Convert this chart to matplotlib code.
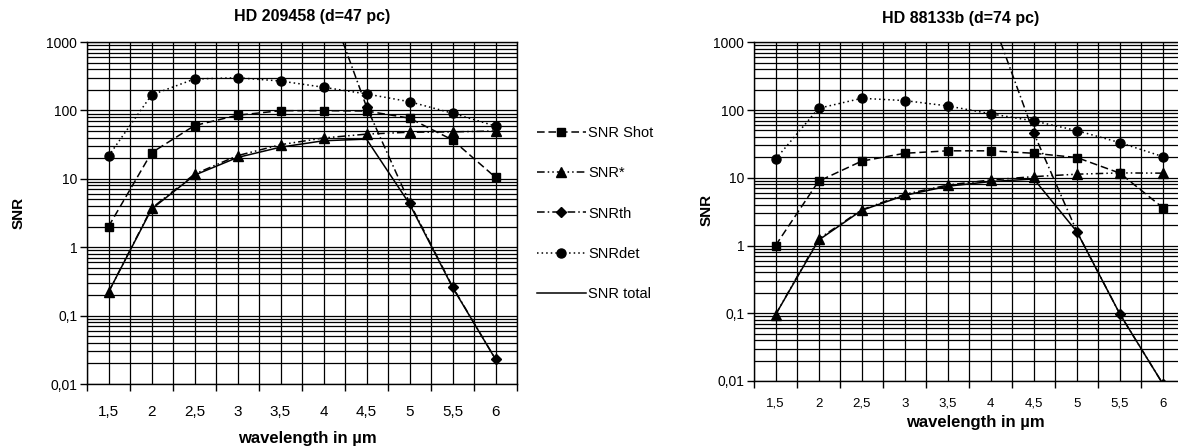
import matplotlib
matplotlib.use("Agg")
import matplotlib.pyplot as plt
from matplotlib.lines import Line2D
from matplotlib.ticker import FixedLocator

plt.rcParams['font.family'] = ['Liberation Sans', 'DejaVu Sans']

# ---------------- data ----------------
wavelength_labels = ["1,5", "2", "2,5", "3", "3,5", "4", "4,5", "5", "5,5", "6"]

# HD 209458 (d=47 pc)
a_shot = [2.0, 24, 60, 85, 99, 99, 98, 77, 37, 10.5]
a_star = [0.22, 3.7, 11.7, 21.8, 31.5, 39.5, 45, 48, 48.5, 50]
a_th = [1e7, 1e6, 2e5, 6e4, 2e4, 6000, 113, 4.5, 0.265, 0.023]
a_det = [21.5, 168, 288, 300, 269, 218, 174, 134, 91, 59]
a_total = [0.22, 3.6, 11.3, 20.5, 29, 36, 38, 4.3, 0.26, 0.023]

# HD 88133b (d=74 pc)
b_shot = [1.0, 8.9, 17.6, 23, 25, 25, 23, 19.9, 11.7, 3.6]
b_star = [0.095, 1.25, 3.36, 5.7, 7.8, 9.3, 10.4, 11.3, 11.8, 11.7]
b_th = [1e6, 2e5, 5e4, 1.5e4, 6000, 2500, 45.5, 1.61, 0.097, 0.009]
b_det = [18.8, 106, 149, 138, 115, 88, 69, 49.7, 33, 20.5]
b_total = [0.095, 1.2, 3.3, 5.5, 7.5, 8.8, 9.6, 1.6, 0.097, 0.009]

series_names = ["SNR Shot", "SNR*", "SNRth", "SNRdet", "SNR total"]
ytick_vals = [0.01, 0.1, 1, 10, 100, 1000]
ytick_labels = ["0,01", "0,1", "1", "10", "100", "1000"]

# ---------------- styles ----------------
styles = {
    "SNR Shot": dict(ls=(0, (5, 2.5)), marker='s', ms=6),
    "SNR*": dict(ls=(0, (5, 2, 1, 2, 1, 2)), marker='^', ms=6.5),
    "SNRth": dict(ls=(0, (5, 2, 1, 2)), marker='D', ms=5),
    "SNRdet": dict(ls=(0, (1, 2)), marker='o', ms=6.5),
    "SNR total": dict(ls='-', marker=None, ms=0),
}

W, H = 1178, 447
fig = plt.figure(figsize=(W / 100, H / 100), dpi=100)


def px_axes(x0, x1, ytop, ybot):
    return fig.add_axes([x0 / W, (H - ybot) / H, (x1 - x0) / W, (ybot - ytop) / H])


def draw(ax, data, xfs, xpad):
    for name, vals in zip(series_names, data):
        st = styles[name]
        ax.plot(wavelength_labels, vals, color='black', lw=1.1,
                linestyle=st['ls'], marker=st['marker'], markersize=st['ms'],
                markerfacecolor='black', markeredgecolor='black', zorder=3)
    n = len(wavelength_labels)
    ax.set_yscale('log')
    ax.set_ylim(0.01, 1000)
    ax.set_xlim(-0.5, n - 0.5)
    ax.yaxis.set_major_locator(FixedLocator(ytick_vals))
    ax.set_yticklabels(ytick_labels, fontsize=10)
    ax.yaxis.set_minor_locator(FixedLocator([m * 10.0 ** e for e in range(-2, 3) for m in range(2, 10)]))
    ax.xaxis.set_major_locator(FixedLocator(list(range(n))))
    ax.set_xticklabels(wavelength_labels, fontsize=xfs)
    ax.xaxis.set_minor_locator(FixedLocator([i - 0.5 for i in range(n + 1)]))
    ax.tick_params(axis='x', which='major', length=0, pad=xpad)
    ax.tick_params(axis='x', which='minor', length=5, width=1, direction='out')
    ax.tick_params(axis='y', which='major', length=5, width=1, direction='out', pad=2)
    ax.tick_params(axis='y', which='minor', length=0)
    ax.grid(True, which='both', axis='both', color='black', lw=0.9)
    ax.set_axisbelow(True)
    for s in ax.spines.values():
        s.set_color('black')
        s.set_linewidth(1)


ax1 = px_axes(87, 517, 42, 384)
draw(ax1, [a_shot, a_star, a_th, a_det, a_total], 11, 15)
ax2 = px_axes(754, 1184.5, 42.3, 381)
draw(ax2, [b_shot, b_star, b_th, b_det, b_total], 9.5, 12)

fig.text(312 / W, 1 - 17 / H, "HD 209458 (d=47 pc)", ha='center', va='center',
         fontsize=11.5, fontweight='bold')
fig.text(961 / W, 1 - 19 / H, "HD 88133b (d=74 pc)", ha='center', va='center',
         fontsize=11.5, fontweight='bold')
fig.text(19 / W, 1 - 213 / H, "SNR", rotation=90, ha='center', va='center',
         fontsize=11, fontweight='bold')
fig.text(707 / W, 1 - 210 / H, "SNR", rotation=90, ha='center', va='center',
         fontsize=11, fontweight='bold')
fig.text(307 / W, 1 - 438 / H, "wavelength in µm", ha='center', va='center',
         fontsize=12, fontweight='bold')
fig.text(975 / W, 1 - 423 / H, "wavelength in µm", ha='center', va='center',
         fontsize=12, fontweight='bold')

handles = []
for name in series_names:
    st = styles[name]
    handles.append(Line2D([], [], color='black', lw=1.1, linestyle=st['ls'],
                          marker=st['marker'], markersize=st['ms'],
                          markerfacecolor='black', markeredgecolor='black'))
fig.legend(handles, series_names, loc='upper left', bbox_to_anchor=(537 / W, 1 - 126 / H),
           frameon=False, fontsize=10.5, handlelength=3.35, handletextpad=0.15,
           labelspacing=1.8, borderpad=0, borderaxespad=0)

fig.savefig("out.png", dpi=100)
